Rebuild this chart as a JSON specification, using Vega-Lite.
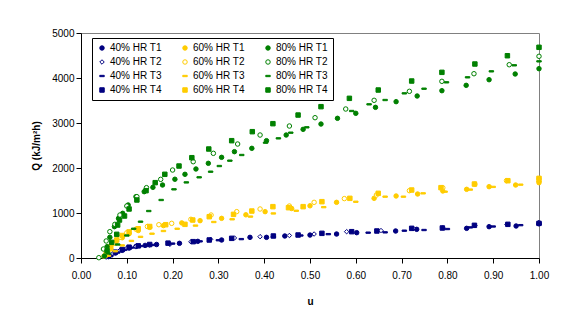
{
  "$schema": "https://vega.github.io/schema/vega-lite/v6.json",
  "width": 458,
  "height": 225,
  "autosize": {"type": "none"},
  "padding": {"left": 81, "top": 33, "right": 38, "bottom": 77},
  "background": "white",
  "config": {
    "view": {"stroke": "#808080", "strokeWidth": 1},
    "font": "Liberation Sans",
    "axis": {"grid": false, "domainColor": "black", "tickColor": "black", "labelColor": "black", "titleColor": "black", "labelFont": "Liberation Sans", "titleFont": "Liberation Sans", "labelFontSize": 10, "titleFontSize": 10, "titleFontWeight": "bold", "tickSize": 5}
  },
  "data": {"values": [
    {"s":"40% HR T1","u":0.06,"q":30},{"s":"40% HR T1","u":0.075,"q":110},{"s":"40% HR T1","u":0.09,"q":170},{"s":"40% HR T1","u":0.105,"q":220},{"s":"40% HR T1","u":0.12,"q":255},{"s":"40% HR T1","u":0.14,"q":280},{"s":"40% HR T1","u":0.165,"q":300},{"s":"40% HR T1","u":0.215,"q":326},{"s":"40% HR T1","u":0.255,"q":370},{"s":"40% HR T1","u":0.307,"q":400},{"s":"40% HR T1","u":0.369,"q":459},{"s":"40% HR T1","u":0.405,"q":459},{"s":"40% HR T1","u":0.445,"q":489},{"s":"40% HR T1","u":0.5,"q":510},{"s":"40% HR T1","u":0.558,"q":533},{"s":"40% HR T1","u":0.602,"q":563},{"s":"40% HR T1","u":0.687,"q":600},{"s":"40% HR T1","u":0.733,"q":637},{"s":"40% HR T1","u":0.842,"q":659},{"s":"40% HR T1","u":0.891,"q":696},{"s":"40% HR T1","u":0.95,"q":711},{"s":"40% HR T1","u":1.0,"q":760},
    {"s":"40% HR T2","u":0.055,"q":20},{"s":"40% HR T2","u":0.07,"q":100},{"s":"40% HR T2","u":0.085,"q":170},{"s":"40% HR T2","u":0.1,"q":220},{"s":"40% HR T2","u":0.12,"q":260},{"s":"40% HR T2","u":0.15,"q":285},{"s":"40% HR T2","u":0.194,"q":304},{"s":"40% HR T2","u":0.24,"q":360},{"s":"40% HR T2","u":0.283,"q":415},{"s":"40% HR T2","u":0.335,"q":445},{"s":"40% HR T2","u":0.391,"q":474},{"s":"40% HR T2","u":0.455,"q":500},{"s":"40% HR T2","u":0.509,"q":533},{"s":"40% HR T2","u":0.58,"q":585},{"s":"40% HR T2","u":0.655,"q":610},{"s":"40% HR T2","u":0.725,"q":650},{"s":"40% HR T2","u":0.79,"q":670},{"s":"40% HR T2","u":0.86,"q":720},{"s":"40% HR T2","u":0.93,"q":745},{"s":"40% HR T2","u":1.0,"q":790},
    {"s":"40% HR T3","u":0.065,"q":40},{"s":"40% HR T3","u":0.08,"q":120},{"s":"40% HR T3","u":0.095,"q":180},{"s":"40% HR T3","u":0.11,"q":230},{"s":"40% HR T3","u":0.13,"q":265},{"s":"40% HR T3","u":0.16,"q":290},{"s":"40% HR T3","u":0.2,"q":320},{"s":"40% HR T3","u":0.26,"q":370},{"s":"40% HR T3","u":0.3,"q":395},{"s":"40% HR T3","u":0.35,"q":420},{"s":"40% HR T3","u":0.42,"q":470},{"s":"40% HR T3","u":0.48,"q":500},{"s":"40% HR T3","u":0.54,"q":530},{"s":"40% HR T3","u":0.627,"q":563},{"s":"40% HR T3","u":0.664,"q":570},{"s":"40% HR T3","u":0.706,"q":607},{"s":"40% HR T3","u":0.749,"q":622},{"s":"40% HR T3","u":0.8,"q":644},{"s":"40% HR T3","u":0.85,"q":680},{"s":"40% HR T3","u":0.9,"q":700},{"s":"40% HR T3","u":0.96,"q":730},{"s":"40% HR T3","u":1.0,"q":750},
    {"s":"40% HR T4","u":0.06,"q":50},{"s":"40% HR T4","u":0.075,"q":130},{"s":"40% HR T4","u":0.09,"q":190},{"s":"40% HR T4","u":0.105,"q":240},{"s":"40% HR T4","u":0.125,"q":270},{"s":"40% HR T4","u":0.15,"q":300},{"s":"40% HR T4","u":0.19,"q":330},{"s":"40% HR T4","u":0.245,"q":363},{"s":"40% HR T4","u":0.28,"q":400},{"s":"40% HR T4","u":0.329,"q":437},{"s":"40% HR T4","u":0.42,"q":489},{"s":"40% HR T4","u":0.474,"q":511},{"s":"40% HR T4","u":0.526,"q":548},{"s":"40% HR T4","u":0.591,"q":585},{"s":"40% HR T4","u":0.646,"q":600},{"s":"40% HR T4","u":0.722,"q":659},{"s":"40% HR T4","u":0.789,"q":667},{"s":"40% HR T4","u":0.859,"q":726},{"s":"40% HR T4","u":0.932,"q":748},{"s":"40% HR T4","u":1.0,"q":770},
    {"s":"60% HR T1","u":0.055,"q":60},{"s":"60% HR T1","u":0.065,"q":200},{"s":"60% HR T1","u":0.075,"q":330},{"s":"60% HR T1","u":0.09,"q":450},{"s":"60% HR T1","u":0.105,"q":540},{"s":"60% HR T1","u":0.125,"q":610},{"s":"60% HR T1","u":0.15,"q":680},{"s":"60% HR T1","u":0.18,"q":720},{"s":"60% HR T1","u":0.22,"q":780},{"s":"60% HR T1","u":0.26,"q":830},{"s":"60% HR T1","u":0.307,"q":881},{"s":"60% HR T1","u":0.36,"q":960},{"s":"60% HR T1","u":0.402,"q":1030},{"s":"60% HR T1","u":0.46,"q":1100},{"s":"60% HR T1","u":0.5,"q":1160},{"s":"60% HR T1","u":0.558,"q":1237},{"s":"60% HR T1","u":0.64,"q":1326},{"s":"60% HR T1","u":0.688,"q":1378},{"s":"60% HR T1","u":0.735,"q":1422},{"s":"60% HR T1","u":0.79,"q":1489},{"s":"60% HR T1","u":0.842,"q":1526},{"s":"60% HR T1","u":0.891,"q":1585},{"s":"60% HR T1","u":0.949,"q":1622},{"s":"60% HR T1","u":1.0,"q":1674},
    {"s":"60% HR T2","u":0.05,"q":40},{"s":"60% HR T2","u":0.06,"q":180},{"s":"60% HR T2","u":0.07,"q":320},{"s":"60% HR T2","u":0.085,"q":460},{"s":"60% HR T2","u":0.1,"q":560},{"s":"60% HR T2","u":0.12,"q":640},{"s":"60% HR T2","u":0.145,"q":700},{"s":"60% HR T2","u":0.17,"q":740},{"s":"60% HR T2","u":0.198,"q":770},{"s":"60% HR T2","u":0.24,"q":860},{"s":"60% HR T2","u":0.284,"q":955},{"s":"60% HR T2","u":0.34,"q":1030},{"s":"60% HR T2","u":0.391,"q":1089},{"s":"60% HR T2","u":0.455,"q":1155},{"s":"60% HR T2","u":0.509,"q":1237},{"s":"60% HR T2","u":0.575,"q":1320},{"s":"60% HR T2","u":0.645,"q":1400},{"s":"60% HR T2","u":0.717,"q":1496},{"s":"60% HR T2","u":0.79,"q":1560},{"s":"60% HR T2","u":0.86,"q":1640},{"s":"60% HR T2","u":0.929,"q":1718},{"s":"60% HR T2","u":1.0,"q":1760},
    {"s":"60% HR T3","u":0.06,"q":50},{"s":"60% HR T3","u":0.075,"q":150},{"s":"60% HR T3","u":0.09,"q":280},{"s":"60% HR T3","u":0.11,"q":380},{"s":"60% HR T3","u":0.13,"q":470},{"s":"60% HR T3","u":0.155,"q":540},{"s":"60% HR T3","u":0.18,"q":600},{"s":"60% HR T3","u":0.21,"q":650},{"s":"60% HR T3","u":0.25,"q":720},{"s":"60% HR T3","u":0.29,"q":800},{"s":"60% HR T3","u":0.33,"q":860},{"s":"60% HR T3","u":0.37,"q":920},{"s":"60% HR T3","u":0.42,"q":990},{"s":"60% HR T3","u":0.47,"q":1050},{"s":"60% HR T3","u":0.53,"q":1130},{"s":"60% HR T3","u":0.6,"q":1250},{"s":"60% HR T3","u":0.664,"q":1363},{"s":"60% HR T3","u":0.704,"q":1363},{"s":"60% HR T3","u":0.747,"q":1437},{"s":"60% HR T3","u":0.795,"q":1474},{"s":"60% HR T3","u":0.85,"q":1520},{"s":"60% HR T3","u":0.9,"q":1580},{"s":"60% HR T3","u":0.96,"q":1630},{"s":"60% HR T3","u":1.0,"q":1700},
    {"s":"60% HR T4","u":0.055,"q":100},{"s":"60% HR T4","u":0.065,"q":250},{"s":"60% HR T4","u":0.078,"q":400},{"s":"60% HR T4","u":0.09,"q":500},{"s":"60% HR T4","u":0.105,"q":580},{"s":"60% HR T4","u":0.125,"q":650},{"s":"60% HR T4","u":0.15,"q":700},{"s":"60% HR T4","u":0.185,"q":740},{"s":"60% HR T4","u":0.227,"q":748},{"s":"60% HR T4","u":0.244,"q":844},{"s":"60% HR T4","u":0.28,"q":918},{"s":"60% HR T4","u":0.333,"q":970},{"s":"60% HR T4","u":0.373,"q":1044},{"s":"60% HR T4","u":0.419,"q":1141},{"s":"60% HR T4","u":0.453,"q":1118},{"s":"60% HR T4","u":0.485,"q":1141},{"s":"60% HR T4","u":0.526,"q":1252},{"s":"60% HR T4","u":0.587,"q":1326},{"s":"60% HR T4","u":0.649,"q":1437},{"s":"60% HR T4","u":0.722,"q":1511},{"s":"60% HR T4","u":0.786,"q":1563},{"s":"60% HR T4","u":0.859,"q":1644},{"s":"60% HR T4","u":0.932,"q":1718},{"s":"60% HR T4","u":1.0,"q":1770},
    {"s":"80% HR T1","u":0.051,"q":44},{"s":"80% HR T1","u":0.057,"q":252},{"s":"80% HR T1","u":0.063,"q":459},{"s":"80% HR T1","u":0.073,"q":696},{"s":"80% HR T1","u":0.082,"q":881},{"s":"80% HR T1","u":0.091,"q":993},{"s":"80% HR T1","u":0.103,"q":1178},{"s":"80% HR T1","u":0.12,"q":1363},{"s":"80% HR T1","u":0.138,"q":1474},{"s":"80% HR T1","u":0.157,"q":1570},{"s":"80% HR T1","u":0.178,"q":1622},{"s":"80% HR T1","u":0.205,"q":1750},{"s":"80% HR T1","u":0.227,"q":1860},{"s":"80% HR T1","u":0.251,"q":1978},{"s":"80% HR T1","u":0.278,"q":2104},{"s":"80% HR T1","u":0.307,"q":2237},{"s":"80% HR T1","u":0.335,"q":2363},{"s":"80% HR T1","u":0.373,"q":2437},{"s":"80% HR T1","u":0.405,"q":2607},{"s":"80% HR T1","u":0.448,"q":2733},{"s":"80% HR T1","u":0.485,"q":2859},{"s":"80% HR T1","u":0.524,"q":2977},{"s":"80% HR T1","u":0.56,"q":3104},{"s":"80% HR T1","u":0.6,"q":3215},{"s":"80% HR T1","u":0.643,"q":3348},{"s":"80% HR T1","u":0.688,"q":3474},{"s":"80% HR T1","u":0.734,"q":3600},{"s":"80% HR T1","u":0.788,"q":3718},{"s":"80% HR T1","u":0.841,"q":3837},{"s":"80% HR T1","u":0.891,"q":3962},{"s":"80% HR T1","u":0.948,"q":4089},{"s":"80% HR T1","u":1.0,"q":4207},
    {"s":"80% HR T2","u":0.039,"q":7},{"s":"80% HR T2","u":0.049,"q":200},{"s":"80% HR T2","u":0.055,"q":378},{"s":"80% HR T2","u":0.063,"q":585},{"s":"80% HR T2","u":0.074,"q":748},{"s":"80% HR T2","u":0.085,"q":955},{"s":"80% HR T2","u":0.1,"q":1155},{"s":"80% HR T2","u":0.122,"q":1363},{"s":"80% HR T2","u":0.143,"q":1563},{"s":"80% HR T2","u":0.174,"q":1748},{"s":"80% HR T2","u":0.2,"q":1955},{"s":"80% HR T2","u":0.245,"q":2140},{"s":"80% HR T2","u":0.289,"q":2326},{"s":"80% HR T2","u":0.342,"q":2533},{"s":"80% HR T2","u":0.391,"q":2733},{"s":"80% HR T2","u":0.455,"q":2933},{"s":"80% HR T2","u":0.511,"q":3118},{"s":"80% HR T2","u":0.578,"q":3311},{"s":"80% HR T2","u":0.64,"q":3504},{"s":"80% HR T2","u":0.717,"q":3704},{"s":"80% HR T2","u":0.788,"q":3926},{"s":"80% HR T2","u":0.858,"q":4095},{"s":"80% HR T2","u":0.935,"q":4295},{"s":"80% HR T2","u":1.0,"q":4482},
    {"s":"80% HR T3","u":0.06,"q":100},{"s":"80% HR T3","u":0.08,"q":300},{"s":"80% HR T3","u":0.1,"q":500},{"s":"80% HR T3","u":0.115,"q":650},{"s":"80% HR T3","u":0.13,"q":807},{"s":"80% HR T3","u":0.148,"q":1044},{"s":"80% HR T3","u":0.175,"q":1289},{"s":"80% HR T3","u":0.203,"q":1526},{"s":"80% HR T3","u":0.23,"q":1680},{"s":"80% HR T3","u":0.258,"q":1793},{"s":"80% HR T3","u":0.283,"q":1918},{"s":"80% HR T3","u":0.302,"q":2044},{"s":"80% HR T3","u":0.325,"q":2163},{"s":"80% HR T3","u":0.351,"q":2289},{"s":"80% HR T3","u":0.403,"q":2563},{"s":"80% HR T3","u":0.431,"q":2659},{"s":"80% HR T3","u":0.458,"q":2785},{"s":"80% HR T3","u":0.493,"q":2904},{"s":"80% HR T3","u":0.591,"q":3267},{"s":"80% HR T3","u":0.629,"q":3415},{"s":"80% HR T3","u":0.664,"q":3511},{"s":"80% HR T3","u":0.706,"q":3659},{"s":"80% HR T3","u":0.749,"q":3762},{"s":"80% HR T3","u":0.798,"q":3904},{"s":"80% HR T3","u":0.844,"q":4015},{"s":"80% HR T3","u":0.896,"q":4148},{"s":"80% HR T3","u":0.946,"q":4282},{"s":"80% HR T3","u":1.0,"q":4370},
    {"s":"80% HR T4","u":0.057,"q":163},{"s":"80% HR T4","u":0.067,"q":348},{"s":"80% HR T4","u":0.078,"q":526},{"s":"80% HR T4","u":0.08,"q":733},{"s":"80% HR T4","u":0.084,"q":844},{"s":"80% HR T4","u":0.095,"q":933},{"s":"80% HR T4","u":0.105,"q":1089},{"s":"80% HR T4","u":0.122,"q":1289},{"s":"80% HR T4","u":0.142,"q":1496},{"s":"80% HR T4","u":0.162,"q":1674},{"s":"80% HR T4","u":0.183,"q":1860},{"s":"80% HR T4","u":0.214,"q":2044},{"s":"80% HR T4","u":0.242,"q":2229},{"s":"80% HR T4","u":0.279,"q":2422},{"s":"80% HR T4","u":0.329,"q":2607},{"s":"80% HR T4","u":0.374,"q":2807},{"s":"80% HR T4","u":0.419,"q":2985},{"s":"80% HR T4","u":0.474,"q":3177},{"s":"80% HR T4","u":0.524,"q":3363},{"s":"80% HR T4","u":0.586,"q":3548},{"s":"80% HR T4","u":0.649,"q":3733},{"s":"80% HR T4","u":0.722,"q":3933},{"s":"80% HR T4","u":0.788,"q":4126},{"s":"80% HR T4","u":0.86,"q":4311},{"s":"80% HR T4","u":0.931,"q":4495},{"s":"80% HR T4","u":1.0,"q":4682}
  ]},
  "mark": {"type": "point", "filled": true, "size": 20, "strokeWidth": 1, "opacity": 1},
  "encoding": {
    "x": {"field": "u", "type": "quantitative", "scale": {"domain": [0, 1], "nice": false}, "axis": {"title": "u", "values": [0,0.1,0.2,0.3,0.4,0.5,0.6,0.7,0.8,0.9,1.0], "format": ".2f", "labelPadding": 7, "titlePadding": 16, "labelFlush": false}},
    "y": {"field": "q", "type": "quantitative", "scale": {"domain": [0, 5000], "nice": false}, "axis": {"title": "Q (kJ/m²h)", "values": [0,1000,2000,3000,4000,5000], "format": "d", "labelPadding": 2, "titlePadding": 10}},
    "shape": {"field": "s", "type": "nominal", "scale": {"domain": ["40% HR T1","60% HR T1","80% HR T1","40% HR T2","60% HR T2","80% HR T2","40% HR T3","60% HR T3","80% HR T3","40% HR T4","60% HR T4","80% HR T4"], "range": ["circle","circle","circle","diamond","circle","circle","M-1,-0.3H1V0.3H-1Z","M-1,-0.3H1V0.3H-1Z","M-1,-0.3H1V0.3H-1Z","square","square","square"]}, "legend": {"title": null}},
    "stroke": {"field": "s", "type": "nominal", "scale": {"domain": ["40% HR T1","60% HR T1","80% HR T1","40% HR T2","60% HR T2","80% HR T2","40% HR T3","60% HR T3","80% HR T3","40% HR T4","60% HR T4","80% HR T4"], "range": ["#000080","#FFCC00","#008000","#000080","#FFCC00","#008000","#000080","#FFCC00","#008000","#000080","#FFCC00","#008000"]}, "legend": {"title": null}},
    "fill": {"field": "s", "type": "nominal", "scale": {"domain": ["40% HR T1","60% HR T1","80% HR T1","40% HR T2","60% HR T2","80% HR T2","40% HR T3","60% HR T3","80% HR T3","40% HR T4","60% HR T4","80% HR T4"], "range": ["#000080","#FFCC00","#008000","#ffffff","#ffffff","#ffffff","#000080","#FFCC00","#008000","#000080","#FFCC00","#008000"]}, "legend": {"title": null, "orient": "none", "direction": "horizontal", "legendX": 11, "legendY": 5, "columns": 3, "strokeColor": "black", "fillColor": "white", "padding": 5, "labelFont": "Liberation Sans", "labelFontSize": 10, "labelColor": "black", "symbolSize": 20, "symbolStrokeWidth": 1, "rowPadding": 4, "columnPadding": 18, "labelOffset": 3}}
  }
}
